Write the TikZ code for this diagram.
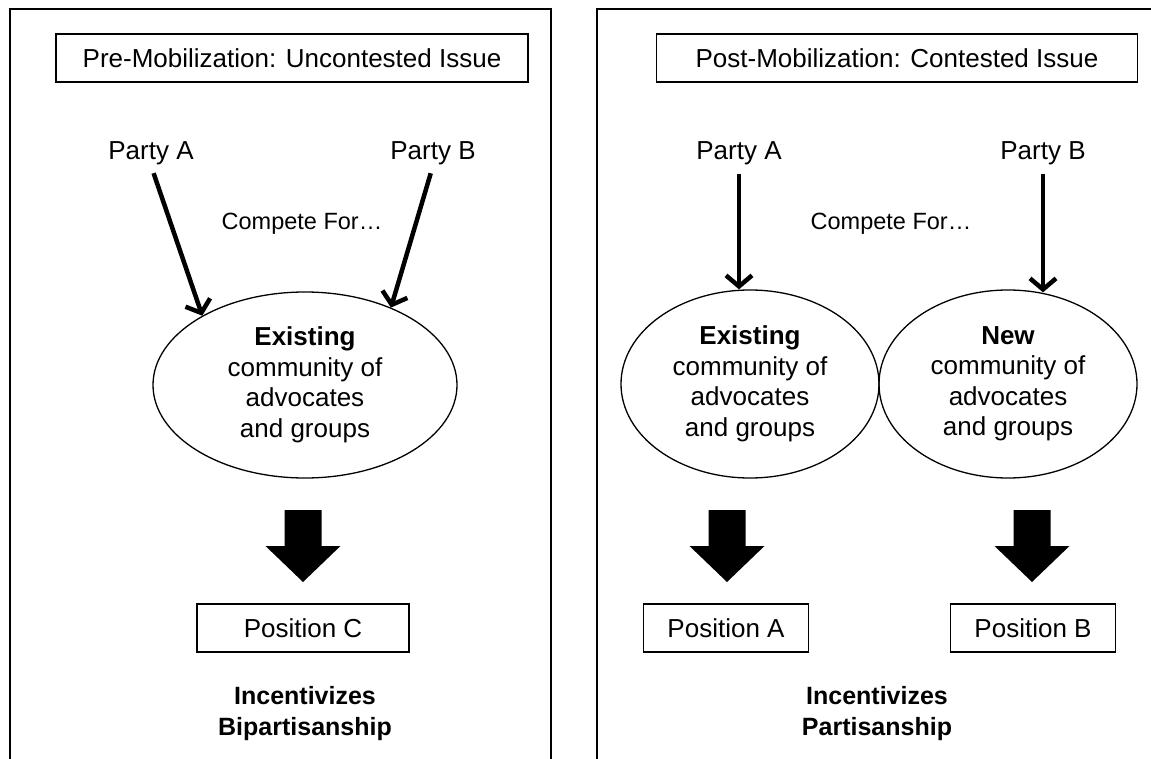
\documentclass[tikz,border=0pt]{standalone}
\usepackage{fontspec}
\setmainfont{Liberation Sans}
\usetikzlibrary{arrows.meta,shapes.geometric}

\tikzset{
  panel/.style={line width=1.5pt},
  tag/.style={draw, line width=1.4pt, inner sep=0pt, minimum height=48pt, font=\fontsize{26}{31}\selectfont},
  party/.style={inner sep=0pt, anchor=base, font=\fontsize{26}{31}\selectfont},
  compete/.style={inner sep=0pt, anchor=base, font=\fontsize{23.5}{28}\selectfont},
  bubble/.style={draw, ellipse, line width=1.3pt, inner sep=0pt, align=center, font=\fontsize{26}{30.5}\selectfont},
  pull/.style={line width=4.5pt, -{Straight Barb[length=11pt,width=26pt]}},
  result/.style={inner sep=0pt, align=center, font=\bfseries\fontsize{25}{31}\selectfont},
}

\begin{document}
\begin{tikzpicture}[x=1pt,y=-1pt]
  \useasboundingbox (0,0) rectangle (1151,759);

  % left panel
  \draw[panel] (10,759) -- (10,9) -- (551,9) -- (551,759);
  \node[tag, minimum width=472pt] (titleL) at (292,58) {Pre-Mobilization: Uncontested Issue};
  \node[party] (paL) at (151,160) {Party A};
  \node[party] (pbL) at (433,160) {Party B};
  \node[compete] (compL) at (302,230) {Compete For…};
  \node[bubble, minimum width=304pt, minimum height=186pt] (exL) at (305,385)
    {\textbf{Existing}\\community of\\advocates\\and groups};
  \draw[pull, shorten <=8pt] (paL.south) -- (exL.146);
  \draw[pull, shorten <=8pt] (pbL.south) -- (exL.42);
  \node[tag, minimum width=212pt] (posC) at (303,628) {Position C};
  \node[result] (incL) at (305,714) {Incentivizes\\Bipartisanship};

  % right panel
  \draw[panel] (597,759) -- (597,9) -- (1151,9);
  \node[tag, minimum width=481pt] (titleR) at (897,58) {Post-Mobilization: Contested Issue};
  \node[party] (paR) at (739,160) {Party A};
  \node[party] (pbR) at (1043,160) {Party B};
  \node[compete] (compR) at (891,230) {Compete For…};
  \node[bubble, minimum width=258pt, minimum height=188pt] (exR) at (750,384)
    {\textbf{Existing}\\community of\\advocates\\and groups};
  \node[bubble, minimum width=258pt, minimum height=188pt] (newR) at (1008,384)
    {\textbf{New}\\community of\\advocates\\and groups};
  \draw[pull, shorten <=8pt] (paR.south) -- (paR.south |- exR.north);
  \draw[pull, shorten <=8pt, shorten >=-3pt] (pbR.south) -- (pbR.south |- newR.north);
  \node[tag, minimum width=165pt] (posA) at (726,628) {Position A};
  \node[tag, minimum width=165pt] (posB) at (1033,628) {Position B};
  \node[result] (incR) at (877,714) {Incentivizes\\Partisanship};

  % block arrows
  \coordinate (faL) at (303,510);
  \coordinate (faA) at (727,510);
  \coordinate (faB) at (1032,510);
  \foreach \c in {faL,faA,faB}
    \fill[shift={(\c)}] (-18.5,0) -- (18.5,0) -- (18.5,36) -- (37.5,36)
      -- (0,72) -- (-37.5,36) -- (-18.5,36) -- cycle;
\end{tikzpicture}
\end{document}
